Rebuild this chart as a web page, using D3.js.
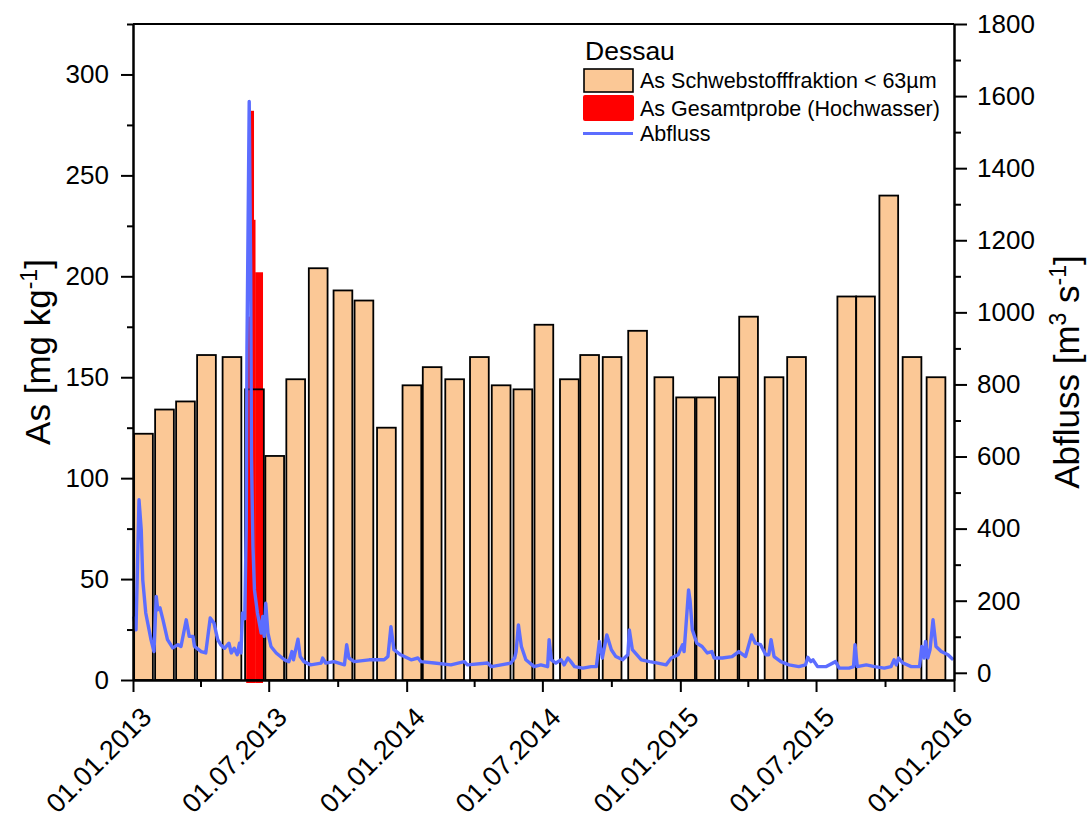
<!DOCTYPE html>
<html><head><meta charset="utf-8">
<script src="https://cdn.jsdelivr.net/npm/d3@7"></script>
<style>
body{margin:0;background:#fff}
svg{display:block}
text{font-family:"Liberation Sans",Arial,sans-serif;fill:#000}
</style>
</head><body>
<svg id="chart" width="1090" height="819"></svg>
<script>
// ---- Daten ----
// Schwebstoffproben (Mitte des Probenahmezeitraums) und As-Gehalt [mg/kg]
const barDates = ["2013-01-15","2013-02-12","2013-03-12","2013-04-09","2013-05-13","2013-06-12","2013-07-09","2013-08-06","2013-09-05","2013-10-08","2013-11-05","2013-12-05",
  "2014-01-08","2014-02-04","2014-03-06","2014-04-08","2014-05-07","2014-06-05","2014-07-03","2014-08-06","2014-09-02","2014-10-02","2014-11-05","2014-12-10",
  "2015-01-08","2015-02-04","2015-03-06","2015-04-02","2015-05-06","2015-06-05","2015-08-11","2015-09-05","2015-10-06","2015-11-06","2015-12-08"];
const barValues = [122,134,138,161,160,144,111,149,204,193,188,125,
  146,155,149,160,146,144,176,149,161,160,173,150,
  140,140,150,180,150,160,190,190,240,160,150];
// Hochwasser-Gesamtproben
const hwFrom = ["2013-06-01","2013-06-03","2013-06-06","2013-06-11","2013-06-13"];
const hwTo   = ["2013-06-03","2013-06-06","2013-06-11","2013-06-13","2013-06-23"];
const hwValues = [100,180,282,228,202];
// Abfluss: Tage seit 01.01.2013 und Abfluss [m3/s]
const flowDays = [1,4,8,11,13,17,24,28,31,33,36,40,46,53,60,64,71,75,80,82,91,97,103,108,113,117,122,128,131,135,139,142,144,146,149,151,152,155,157,158,160,162,166,171,173,175,177,180,184,191,202,208,212,214,220,223,228,237,251,253,257,268,282,285,288,295,315,335,340,344,348,357,371,380,384,
  402,424,442,446,473,478,491,504,509,511,514,518,524,535,544,553,555,558,564,571,575,580,584,589,600,611,618,622,626,632,638,644,653,660,662,666,678,689,700,711,718,727,733,735,741,743,746,
  752,759,766,772,775,786,799,808,817,825,830,837,844,848,851,855,864,875,888,897,900,904,907,913,924,937,942,955,961,963,966,978,989,1002,1011,1015,1018,1021,1027,1038,1049,1052,1055,1057,1060,1063,1067,1071,1078,1087,1094];
const flowValues = [156,119,480,397,258,166,92,59,212,175,180,147,92,69,78,73,147,101,101,73,59,55,152,138,92,78,68,82,55,68,50,82,55,166,150,400,900,1585,1100,600,350,230,166,110,156,101,193,110,73,55,36,31,59,36,93,45,31,22,27,41,27,31,22,78,41,31,36,36,45,128,64,50,36,41,31,
  27,22,31,22,27,17,22,27,41,59,133,73,36,17,22,17,92,36,27,36,22,41,31,17,13,17,17,87,41,105,64,45,36,50,119,64,36,31,27,22,41,50,78,59,230,200,119,
  82,73,55,59,41,41,45,59,45,105,82,78,50,50,92,45,31,22,17,22,43,31,36,17,17,31,13,13,17,78,17,22,17,13,17,36,22,41,27,17,17,73,41,87,41,64,147,73,59,50,36];
const xTickDates = ["2013-01-01","2013-07-01","2014-01-01","2014-07-01","2015-01-01","2015-07-01","2016-01-01"];
const xTickLabels = ["01.01.2013","01.07.2013","01.01.2014","01.07.2014","01.01.2015","01.07.2015","01.01.2016"];
const xMinorDates = ["2013-04-01","2013-10-01","2014-04-01","2014-10-01","2015-04-01","2015-10-01"];
const leftTicks = [0,50,100,150,200,250,300];
const leftMinor = [25,75,125,175,225,275,325];
const rightTicks = [0,200,400,600,800,1000,1200,1400,1600,1800];
const rightMinor = [100,300,500,700,900,1100,1300,1500,1700];
const legendTitle = "Dessau";
const legendLabels = ["As Schwebstofffraktion < 63µm","As Gesamtprobe (Hochwasser)","Abfluss"];

// ---- Layout ----
const parse = d3.timeParse("%Y-%m-%d");
const start = parse("2013-01-01");
const L = 133, R = 954, T = 24, B = 680;
const svg = d3.select("#chart");
const x = d3.scaleTime().domain([start, parse("2016-01-01")]).range([L, R]);
const yL = d3.scaleLinear().domain([0, 325]).range([B, T]);
const yR = d3.scaleLinear().domain([-20, 1800]).range([B, T]);
const barDays = 25;
const cPeach = "#fbc896", cRed = "#ff0000", cBlue = "#5c6dff";

// Schwebstoff-Balken (Füllung)
const bars = barDates.map((d, i) => {
  const c = parse(d);
  return {x0: d3.timeHour.offset(c, -barDays * 12), x1: d3.timeHour.offset(c, barDays * 12), v: barValues[i]};
});
svg.append("g").selectAll("rect").data(bars).join("rect")
  .attr("x", d => x(d.x0)).attr("width", d => x(d.x1) - x(d.x0))
  .attr("y", d => yL(d.v)).attr("height", d => yL(0) - yL(d.v))
  .attr("fill", cPeach);

// Hochwasser-Balken
svg.append("g").selectAll("rect").data(hwValues).join("rect")
  .attr("x", (d, i) => x(parse(hwFrom[i])))
  .attr("width", (d, i) => x(parse(hwTo[i])) - x(parse(hwFrom[i])) + 0.3)
  .attr("y", d => yL(d)).attr("height", d => yL(0) - yL(d) + 3)
  .attr("fill", cRed);

// Balken-Umrisse
svg.append("g").selectAll("rect").data(bars).join("rect")
  .attr("x", d => x(d.x0)).attr("width", d => x(d.x1) - x(d.x0))
  .attr("y", d => yL(d.v)).attr("height", d => yL(0) - yL(d.v))
  .attr("fill", "none").attr("stroke", "#000").attr("stroke-width", 1.8);

// Abfluss-Linie
const flow = flowDays.map((d, i) => ({t: d3.timeDay.offset(start, d), v: flowValues[i]}));
svg.append("path").datum(flow)
  .attr("d", d3.line().x(d => x(d.t)).y(d => yR(d.v)))
  .attr("fill", "none").attr("stroke", cBlue).attr("stroke-width", 3.4).attr("stroke-linejoin", "round");

// ---- Achsen ----
function style(g) {
  g.selectAll("path,line").attr("stroke", "#000").attr("stroke-width", 2);
  g.selectAll("text").attr("font-size", 26).attr("font-family", "Liberation Sans, Arial, sans-serif");
}
svg.append("g").attr("transform", `translate(${L},0)`)
  .call(d3.axisLeft(yL).tickValues(leftTicks).tickSize(12).tickSizeOuter(0).tickPadding(12).tickFormat(d3.format("d"))).call(style);
svg.append("g").attr("transform", `translate(${L},0)`)
  .call(d3.axisLeft(yL).tickValues(leftMinor).tickSize(6).tickSizeOuter(0).tickFormat("")).call(style);
svg.append("g").attr("transform", `translate(${R},0)`)
  .call(d3.axisRight(yR).tickValues(rightTicks).tickSize(13).tickSizeOuter(0).tickPadding(10).tickFormat(d3.format("d"))).call(style);
svg.append("g").attr("transform", `translate(${R},0)`)
  .call(d3.axisRight(yR).tickValues(rightMinor).tickSize(7).tickSizeOuter(0).tickFormat("")).call(style);
svg.append("g").attr("transform", `translate(0,${B})`)
  .call(d3.axisBottom(x).tickValues(xTickDates.map(parse)).tickSize(12).tickSizeOuter(0).tickFormat("")).call(style);
svg.append("g").attr("transform", `translate(0,${B})`)
  .call(d3.axisBottom(x).tickValues(xMinorDates.map(parse)).tickSize(7).tickSizeOuter(0).tickFormat("")).call(style);
svg.append("line").attr("x1", L).attr("x2", R).attr("y1", T).attr("y2", T).attr("stroke", "#000").attr("stroke-width", 2);

// X-Beschriftungen
svg.append("g").selectAll("text").data(xTickDates).join("text")
  .attr("transform", d => `translate(${x(parse(d)) + 20},${719}) rotate(-45)`)
  .attr("text-anchor", "end").attr("font-size", 27)
  .text((d, i) => xTickLabels[i]);

// Achsentitel
const tl = svg.append("text").attr("transform", `translate(50,352) rotate(-90)`)
  .attr("text-anchor", "middle").attr("font-size", 35);
tl.append("tspan").text("As [mg kg");
tl.append("tspan").attr("dy", -13).attr("font-size", 23).text("-1");
tl.append("tspan").attr("dy", 13).text("]");
const tr = svg.append("text").attr("transform", `translate(1079,372) rotate(-90)`)
  .attr("text-anchor", "middle").attr("font-size", 35);
tr.append("tspan").text("Abfluss [m");
tr.append("tspan").attr("dy", -13).attr("font-size", 23).text("3");
tr.append("tspan").attr("dy", 13).text(" s");
tr.append("tspan").attr("dy", -13).attr("font-size", 23).text("-1");
tr.append("tspan").attr("dy", 13).text("]");

// ---- Legende ----
const lg = svg.append("g");
lg.append("text").attr("x", 585).attr("y", 60).attr("font-size", 26.5).text(legendTitle);
lg.append("rect").attr("x", 584).attr("y", 69).attr("width", 49).attr("height", 23)
  .attr("fill", cPeach).attr("stroke", "#000").attr("stroke-width", 1.6);
lg.append("rect").attr("x", 583).attr("y", 95).attr("width", 51).attr("height", 26).attr("rx", 2)
  .attr("fill", cRed);
lg.append("line").attr("x1", 583).attr("x2", 633).attr("y1", 133.5).attr("y2", 133.5)
  .attr("stroke", cBlue).attr("stroke-width", 3);
lg.selectAll("text.item").data(legendLabels).join("text").attr("class", "item")
  .attr("x", 640).attr("y", (d, i) => [88, 116, 141][i]).attr("font-size", 21.5).text(d => d);
</script>
</body></html>
